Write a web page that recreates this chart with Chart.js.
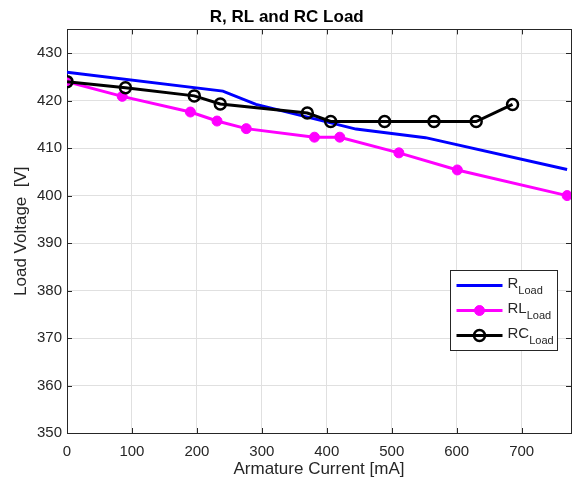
<!DOCTYPE html>
<html>
<head>
<meta charset="utf-8">
<title>R, RL and RC Load</title>
<script src="https://cdn.jsdelivr.net/npm/chart.js@4.4.1/dist/chart.umd.min.js"></script>
<style>
  html, body { margin: 0; padding: 0; background: #fff; }
  canvas { display: block; }
</style>
</head>
<body>
<canvas id="loadChart" width="579" height="483"></canvas>
<script>
// values
const rCurrent = [0, 240, 291, 445, 552, 770];
const rVoltage = [426.0, 422.0, 419.2, 414.0, 412.2, 405.5];

const rlCurrent = [0, 85, 190, 231, 276, 381, 420, 511, 601, 770];
const rlVoltage = [424.0, 420.9, 417.6, 415.7, 414.1, 412.3, 412.3, 409.0, 405.4, 400.0];

const rcCurrent = [0, 90, 196, 236, 370, 406, 489, 565, 630, 686];
const rcVoltage = [424.0, 422.7, 421.0, 419.3, 417.4, 415.6, 415.6, 415.6, 415.6, 419.2];

const seriesNames = ["R", "RL", "RC"];
const seriesSub = "Load";

const FONT = "'Liberation Sans', Arial, Helvetica, sans-serif";
const AXIS_COLOR = "#262626";
const GRID_COLOR = "#e0e0e0";

function toPoints(xs, ys) {
  return xs.map((x, i) => ({ x: x, y: ys[i] }));
}

// MATLAB-like box with inward ticks on all four sides
const axesBox = {
  id: "axesBox",
  beforeDatasetsDraw(chart) {
    const { ctx, chartArea: a, scales } = chart;
    const tl = 5;
    ctx.save();
    ctx.strokeStyle = AXIS_COLOR;
    ctx.lineWidth = 1;
    ctx.beginPath();
    scales.x.ticks.forEach(t => {
      const px = Math.round(scales.x.getPixelForValue(t.value)) + 0.5;
      ctx.moveTo(px, a.bottom);
      ctx.lineTo(px, a.bottom - tl);
      ctx.moveTo(px, a.top);
      ctx.lineTo(px, a.top + tl);
    });
    scales.y.ticks.forEach(t => {
      const py = Math.round(scales.y.getPixelForValue(t.value)) + 0.5;
      ctx.moveTo(a.left, py);
      ctx.lineTo(a.left + tl, py);
      ctx.moveTo(a.right, py);
      ctx.lineTo(a.right - tl, py);
    });
    ctx.stroke();
    ctx.strokeRect(Math.round(a.left) + 0.5, Math.round(a.top) + 0.5,
      Math.round(a.right) - Math.round(a.left), Math.round(a.bottom) - Math.round(a.top));
    ctx.restore();
  }
};

// legend with subscripts, drawn from the datasets
const subLegend = {
  id: "subLegend",
  afterDatasetsDraw(chart) {
    const { ctx, chartArea: a } = chart;
    const x0 = Math.round(a.right - 121) + 0.5;
    const y0 = Math.round(a.bottom - 163) + 0.5;
    const w = 107, h = 80;
    ctx.save();
    ctx.fillStyle = "#fff";
    ctx.fillRect(x0, y0, w, h);
    ctx.strokeStyle = AXIS_COLOR;
    ctx.lineWidth = 1;
    ctx.strokeRect(x0, y0, w, h);

    chart.data.datasets.forEach((ds, i) => {
      const cy = y0 + 15 + i * 25;
      const lx1 = x0 + 6, lx2 = x0 + 52;
      ctx.strokeStyle = ds.borderColor;
      ctx.lineWidth = ds.borderWidth;
      ctx.beginPath();
      ctx.moveTo(lx1, cy);
      ctx.lineTo(lx2, cy);
      ctx.stroke();
      if (ds.pointRadius > 0) {
        ctx.beginPath();
        ctx.arc((lx1 + lx2) / 2, cy, ds.pointRadius, 0, Math.PI * 2);
        if (ds.pointBackgroundColor !== "transparent") {
          ctx.fillStyle = ds.pointBackgroundColor;
          ctx.fill();
        }
        ctx.strokeStyle = ds.pointBorderColor;
        ctx.lineWidth = ds.pointBorderWidth;
        ctx.stroke();
      }
      ctx.fillStyle = AXIS_COLOR;
      ctx.textBaseline = "alphabetic";
      ctx.textAlign = "left";
      ctx.font = "15px " + FONT;
      const name = seriesNames[i];
      const tx = x0 + 57;
      ctx.fillText(name, tx, cy + 2);
      const nw = ctx.measureText(name).width;
      ctx.font = "11px " + FONT;
      ctx.fillText(seriesSub, tx + nw, cy + 8);
    });
    ctx.restore();
  }
};

const ctx = document.getElementById("loadChart").getContext("2d");

const chart = new Chart(ctx, {
  type: "line",
  data: {
    datasets: [
      {
        label: "R Load",
        data: toPoints(rCurrent, rVoltage),
        borderColor: "#0000ff",
        borderWidth: 3,
        pointRadius: 0,
        pointBackgroundColor: "#0000ff",
        pointBorderColor: "#0000ff",
        pointBorderWidth: 0,
        fill: false,
        tension: 0,
        order: 3
      },
      {
        label: "RL Load",
        data: toPoints(rlCurrent, rlVoltage),
        borderColor: "#ff00ff",
        borderWidth: 3,
        pointRadius: 5,
        pointBackgroundColor: "#ff00ff",
        pointBorderColor: "#ff00ff",
        pointBorderWidth: 1,
        fill: false,
        tension: 0,
        order: 2
      },
      {
        label: "RC Load",
        data: toPoints(rcCurrent, rcVoltage),
        borderColor: "#000000",
        borderWidth: 3,
        pointRadius: 5.5,
        pointBackgroundColor: "transparent",
        pointBorderColor: "#000000",
        pointBorderWidth: 2.5,
        fill: false,
        tension: 0,
        order: 1
      }
    ]
  },
  options: {
    responsive: false,
    animation: false,
    devicePixelRatio: 1,
    layout: {
      padding: { left: 0, right: 5.5, top: 0, bottom: 0 }
    },
    plugins: {
      legend: { display: false },
      tooltip: { enabled: false },
      title: {
        display: true,
        text: "R, RL and RC Load",
        color: "#000",
        font: { family: FONT, size: 17, weight: "bold" },
        padding: { top: 7, bottom: 2 }
      }
    },
    scales: {
      x: {
        type: "linear",
        min: 0,
        max: 776,
        afterFit: s => {
          s.height = 50;
          s.paddingLeft = 0;
          s.paddingRight = 0;
        },
        grid: { color: GRID_COLOR, drawTicks: false },
        border: { display: false },
        ticks: {
          stepSize: 100,
          includeBounds: false,
          color: AXIS_COLOR,
          padding: 10,
          maxRotation: 0,
          font: { family: FONT, size: 15 }
        },
        title: {
          display: true,
          text: "Armature Current [mA]",
          color: AXIS_COLOR,
          font: { family: FONT, size: 17 },
          padding: { top: 0, bottom: 3 }
        }
      },
      y: {
        type: "linear",
        min: 350,
        max: 435,
        afterFit: s => { s.width = 67; },
        grid: { color: GRID_COLOR, drawTicks: false },
        border: { display: false },
        ticks: {
          stepSize: 10,
          includeBounds: false,
          color: AXIS_COLOR,
          padding: 5,
          font: { family: FONT, size: 15 }
        },
        title: {
          display: true,
          text: "Load Voltage  [V]",
          color: AXIS_COLOR,
          font: { family: FONT, size: 17 },
          padding: { top: 11, bottom: 0 }
        }
      }
    }
  },
  plugins: [axesBox, subLegend]
});
</script>
</body>
</html>
